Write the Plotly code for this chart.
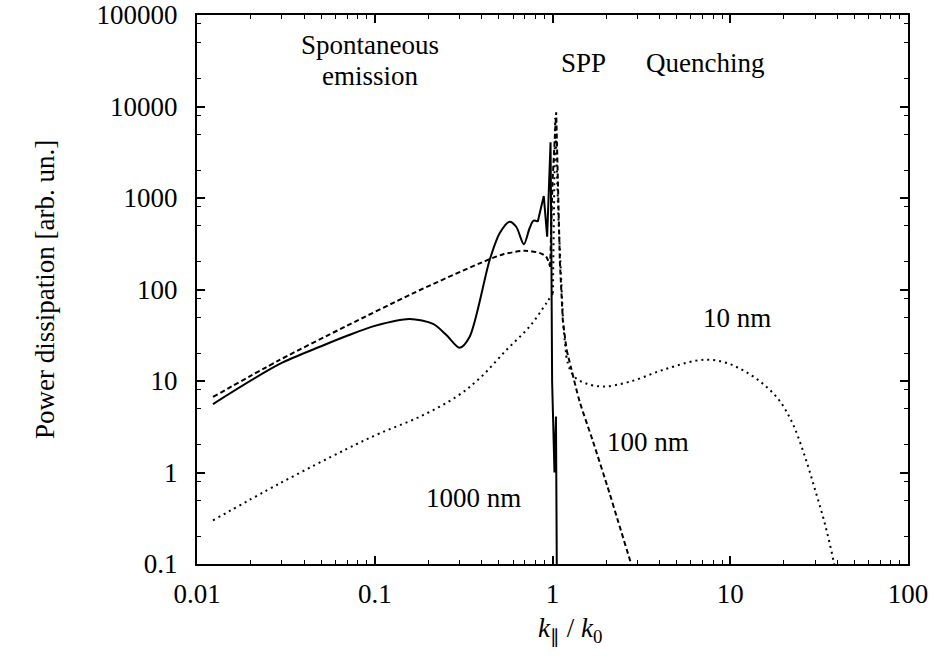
import numpy as np
import plotly.graph_objects as go

# ---------------- data ----------------
# 1000 nm (solid)
x_1000 = [0.0123, 0.0292, 0.0500, 0.0693, 0.100, 0.157, 0.213, 0.253, 0.300, 0.342,
          0.443, 0.504, 0.573, 0.625, 0.690, 0.743, 0.782, 0.826, 0.893, 0.933,
          0.975, 0.985, 0.995, 1.026, 1.046, 1.057, 1.060]
y_1000 = [5.6, 15.4, 24.0, 31.0, 40.0, 47.6, 42.0, 31.8, 23.1, 30.5,
          210, 411, 551, 485, 312, 467, 565, 551, 1052, 378,
          4065, 300, 10, 1.0, 4.1, 0.1, 0.05]
smooth_end_1000 = 17   # index where the smooth part ends

# 100 nm (dashed)
x_100 = [0.0123, 0.0292, 0.0693, 0.164, 0.389, 0.520, 0.697, 0.850, 0.922, 0.970,
         1.000, 1.049, 1.074, 1.100, 1.143, 1.200, 1.273, 1.420, 1.680, 2.090,
         2.330, 2.770, 3.000]
y_100 = [6.7, 17.0, 39.9, 90.8, 193, 240, 265, 250, 228, 177,
         1500, 8650, 950, 200, 46, 22, 13.8, 6.0, 2.26, 0.6,
         0.30, 0.1, 0.06]
smooth_end_100 = 9
spike_end_100 = 15

# 10 nm (dotted)
x_10 = [0.0123, 0.0292, 0.0693, 0.1067, 0.179, 0.288, 0.389, 0.550, 0.743, 0.922,
        1.005, 1.035, 1.080, 1.120, 1.150, 1.194, 1.250, 1.350, 1.545, 1.920,
        2.710, 4.170, 6.410, 7.960, 9.870, 12.2, 15.2, 18.8, 22.4, 26.0,
        30.0, 34.5, 38.4, 40.0]
y_10 = [0.30, 0.76, 1.80, 2.68, 4.07, 6.73, 10.7, 21.8, 39.3, 70.6,
        90.8, 7500, 600, 99, 40, 19.0, 13.5, 10.8, 9.4, 8.7,
        9.8, 13.2, 16.7, 17.0, 15.4, 12.6, 9.4, 6.2, 3.45, 1.6,
        0.65, 0.25, 0.1, 0.06]
smooth_end_10 = 10
spike_end_10 = 15

x_tick_vals = [0.01, 0.1, 1, 10, 100]
x_tick_text = ["0.01", "0.1", "1", "10", "100"]
y_tick_vals = [0.1, 1, 10, 100, 1000, 10000, 100000]
y_tick_text = ["0.1", "1", "10", "100", "1000", "10000", "100000"]

FONT = "Liberation Serif"
FS = 27

W, H = 934, 658
# plot area in page pixels
L, R, T, B = 197, 908, 15, 564

fig = go.Figure()


def add(xs, ys, dash, shape, smoothing=0.8):
    fig.add_trace(go.Scatter(x=xs, y=ys, mode="lines",
                             line=dict(color="black", width=2, dash=dash,
                                       shape=shape, smoothing=smoothing),
                             showlegend=False, hoverinfo="skip"))


# solid 1000 nm
add(x_1000[:smooth_end_1000 + 1], y_1000[:smooth_end_1000 + 1], "solid", "spline")
add(x_1000[smooth_end_1000:], y_1000[smooth_end_1000:], "solid", "linear")
# dashed 100 nm
add(x_100[:smooth_end_100 + 1], y_100[:smooth_end_100 + 1], "5px,3px", "spline")
add(x_100[smooth_end_100:spike_end_100 + 1], y_100[smooth_end_100:spike_end_100 + 1], "5px,3px", "linear")
add(x_100[spike_end_100:], y_100[spike_end_100:], "5px,3px", "spline")
# dotted 10 nm
add(x_10[:smooth_end_10 + 1], y_10[:smooth_end_10 + 1], "2px,4px", "spline", 1.0)
add(x_10[smooth_end_10:spike_end_10 + 1], y_10[smooth_end_10:spike_end_10 + 1], "2px,4px", "linear")
add(x_10[spike_end_10:], y_10[spike_end_10:], "2px,4px", "spline", 1.0)

x_minor = [m * 10.0 ** e for e in range(-2, 2) for m in range(2, 10)]
y_minor = [m * 10.0 ** e for e in range(-1, 5) for m in (2, 5, 8)]

axis_common = dict(type="log", showgrid=False, zeroline=False,
                   showline=True, linecolor="black", linewidth=2, mirror="ticks",
                   ticks="inside", ticklen=8, tickwidth=1.5, tickcolor="black",
                   ticklabeloverflow="allow",
                   tickfont=dict(family=FONT, size=FS, color="black"))

fig.update_xaxes(**axis_common, range=[-2, 2], tickmode="array",
                 tickvals=x_tick_vals, ticktext=x_tick_text,
                 minor=dict(ticks="inside", ticklen=4, tickwidth=1.2, tickcolor="black",
                            tickmode="array", tickvals=x_minor, showgrid=False),
                 ticklabelstandoff=5)
fig.update_yaxes(**axis_common, range=[-1, 5], tickmode="array",
                 tickvals=y_tick_vals, ticktext=y_tick_text,
                 minor=dict(ticks="inside", ticklen=4, tickwidth=1.2, tickcolor="black",
                            tickmode="array", tickvals=y_minor, showgrid=False),
                 ticklabelstandoff=12)


def px2paper(px, py):
    return (px - L) / (R - L), (B - py) / (B - T)


annots = [
    ("Spontaneous", 370, 45),
    ("emission", 370, 76),
    ("SPP", 583, 63),
    ("Quenching", 705, 63),
    ("10 nm", 737, 318),
    ("100 nm", 648, 442),
    ("1000 nm", 473, 498),
]
for text, px, py in annots:
    ax, ay = px2paper(px, py)
    fig.add_annotation(x=ax, y=ay, xref="paper", yref="paper", text=text,
                       showarrow=False, xanchor="center", yanchor="middle",
                       font=dict(family=FONT, size=FS, color="black"))

# axis titles
ax, ay = px2paper(45, 290)
fig.add_annotation(x=ax, y=ay, xref="paper", yref="paper",
                   text="Power dissipation [arb. un.]", textangle=-90,
                   showarrow=False, xanchor="center", yanchor="middle",
                   font=dict(family=FONT, size=FS, color="black"))
ax, ay = px2paper(570, 630)
fig.add_annotation(x=ax, y=ay, xref="paper", yref="paper",
                   text="<i>k</i><sub>\u2225</sub> / <i>k</i><sub>0</sub>",
                   showarrow=False, xanchor="center", yanchor="middle",
                   font=dict(family=FONT, size=FS, color="black"))

fig.update_layout(width=W, height=H, showlegend=False,
                  paper_bgcolor="white", plot_bgcolor="white",
                  margin=dict(l=L, r=W - R, t=T, b=H - B, autoexpand=False))

# remove the default page margin so the figure fills the window exactly
fig.write_html("out.html", config={"displayModeBar": False},
               post_script="document.body.style.margin='0';document.body.style.overflow='hidden';")
